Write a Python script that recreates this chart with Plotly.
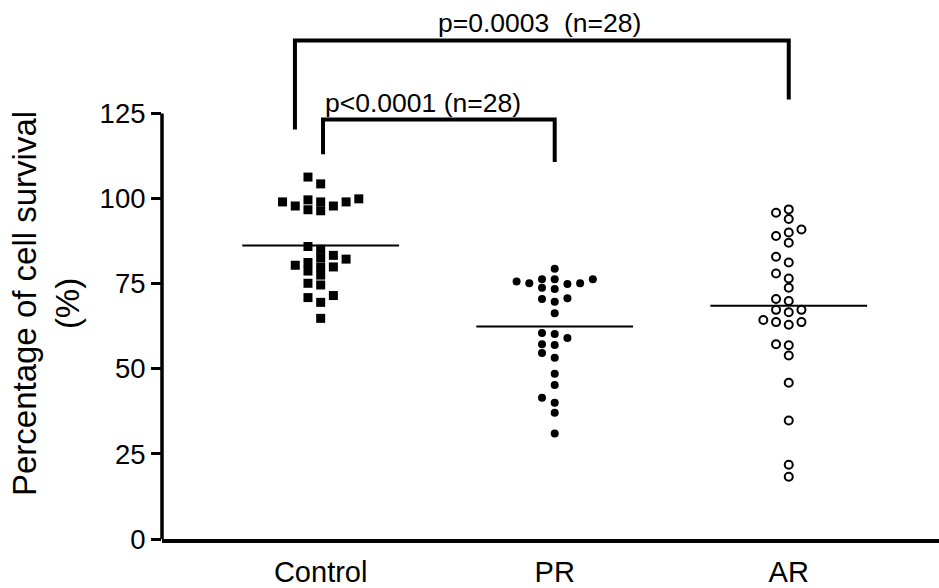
import plotly.graph_objects as go

# ---------------- data ----------------
categories = ["Control", "PR", "AR"]

control_values = [106.3, 104.3, 99.6, 99.0, 97.8, 96.7, 96.4, 97.8, 99.0, 99.0, 99.9,
                  85.1, 85.9, 82.2, 80.4, 79.9, 77.5, 82.6, 83.3, 81.2, 78.7, 79.9,
                  74.6, 75.1, 70.9, 69.5, 71.5, 64.8]
pr_values = [79.4, 76.3, 76.3, 73.8, 75.1, 74.9, 75.1, 73.4, 75.6, 76.3,
             70.7, 70.5, 69.7, 66.3, 60.2, 60.5, 57.2, 57.0, 59.0, 53.2, 54.6,
             48.5, 45.2, 41.5, 40.0, 37.1, 31.0]
ar_values = [96.8, 95.8, 94.0, 89.0, 90.9, 90.0, 87.0, 81.2, 82.9, 78.0, 76.5, 73.8,
             70.5, 69.9, 66.6, 67.3, 67.3, 63.7, 62.9, 63.7, 64.3, 56.9, 57.2, 53.9,
             45.9, 34.8, 21.8, 18.3]
group_means = [86.2, 62.4, 68.5]

y_ticks = [0, 25, 50, 75, 100, 125]

# significance brackets: (left group, right group, bar level, left foot, right foot, label)
brackets = [
    ("Control", "AR", 146.4, 120.3, 129.1, "p=0.0003&nbsp;&nbsp;(n=28)"),
    ("Control", "PR", 123.2, 113.0, 110.7, "p<0.0001 (n=28)"),
]

# ---------------- layout constants ----------------
FONT = "Liberation Sans, Arial, Helvetica, sans-serif"
W, H = 939, 588
ML, MR, MT, MB = 162, 0, 4, 46
AXIS_TOP = 125
PX_PER_UNIT = 428 / 125.0          # vertical scale seen in the reference
Y_MAX = (H - MT - MB) / PX_PER_UNIT
X_MIN, X_MAX = 0.322, 3.642
SLOT = 0.0543                      # horizontal step of the column scatter
MIN_SEP = 2.3                      # min vertical gap (data units) in the same slot
MEAN_HALF = 0.335

xpos = {c: i + 1 for i, c in enumerate(categories)}


def swarm(values, center):
    """Deterministic column-scatter placement (ascending, centre-out)."""
    order = sorted(range(len(values)), key=lambda i: values[i])
    slots = {}
    xs = [0.0] * len(values)
    seq = [0]
    for k in range(1, 30):
        seq += [-k, k]
    for i in order:
        v = values[i]
        for k in seq:
            if all(abs(v - u) >= MIN_SEP for u in slots.get(k, [])):
                slots.setdefault(k, []).append(v)
                xs[i] = center + k * SLOT
                break
    return xs


fig = go.Figure()

styles = {
    "Control": dict(symbol="square", size=9, color="black"),
    "PR": dict(symbol="circle", size=8, color="black"),
    "AR": dict(symbol="circle-open", size=8, color="black", line=dict(width=2, color="black")),
}
series = {"Control": control_values, "PR": pr_values, "AR": ar_values}

for cat in categories:
    vals = series[cat]
    fig.add_trace(go.Scatter(
        x=swarm(vals, xpos[cat]), y=vals, mode="markers",
        marker=styles[cat], showlegend=False, hoverinfo="y", cliponaxis=False))

# mean lines
for cat, m in zip(categories, group_means):
    c = xpos[cat]
    fig.add_trace(go.Scatter(
        x=[c - MEAN_HALF, c + MEAN_HALF], y=[m, m], mode="lines",
        line=dict(color="black", width=2), showlegend=False, hoverinfo="skip"))

# brackets
LEFT_OFFSET = {"Control->AR": -0.11, "Control->PR": 0.01}
for a, b, level, lf, rf, label in brackets:
    xa = xpos[a] + LEFT_OFFSET[f"{a}->{b}"]
    xb = xpos[b]
    fig.add_trace(go.Scatter(
        x=[xa, xa, xb, xb], y=[lf, level, level, rf], mode="lines",
        line=dict(color="black", width=4), showlegend=False, hoverinfo="skip"))

fig.add_annotation(x=1.937, y=146.4, xref="x", yref="y", text=brackets[0][5],
                   showarrow=False, yanchor="bottom", yshift=1,
                   font=dict(family=FONT, size=26.5, color="black"))
fig.add_annotation(x=1.437, y=123.2, xref="x", yref="y", text=brackets[1][5],
                   showarrow=False, yanchor="bottom", yshift=0,
                   font=dict(family=FONT, size=26.5, color="black"))

# y-axis title (placed like the reference)
fig.add_annotation(x=0, y=69, xref="paper", yref="y", xanchor="center", yanchor="middle",
                   xshift=-116, text="Percentage of cell survival<br>(%)", textangle=-90,
                   showarrow=False, font=dict(family=FONT, size=33, color="black"))

# visible y-axis line only up to 125
fig.add_shape(type="line", xref="paper", yref="y", x0=0, x1=0, y0=0, y1=AXIS_TOP,
              line=dict(color="black", width=3.5))

fig.update_layout(
    width=W, height=H,
    margin=dict(l=ML, r=MR, t=MT, b=MB, pad=0),
    paper_bgcolor="white", plot_bgcolor="white",
    font=dict(family=FONT, color="black"),
    xaxis=dict(range=[X_MIN, X_MAX], tickvals=[xpos[c] for c in categories],
               ticktext=categories, showline=True, linecolor="black", linewidth=3.5,
               ticks="", showgrid=False, zeroline=False, ticklabelstandoff=4,
               tickfont=dict(family=FONT, size=29, color="black")),
    yaxis=dict(range=[0, Y_MAX], tickvals=y_ticks, showline=False, ticks="outside",
               ticklen=10, tickwidth=3, tickcolor="black", showgrid=False, zeroline=False,
               tickfont=dict(family=FONT, size=27.5, color="black")),
)

fig.write_html("out.html")
